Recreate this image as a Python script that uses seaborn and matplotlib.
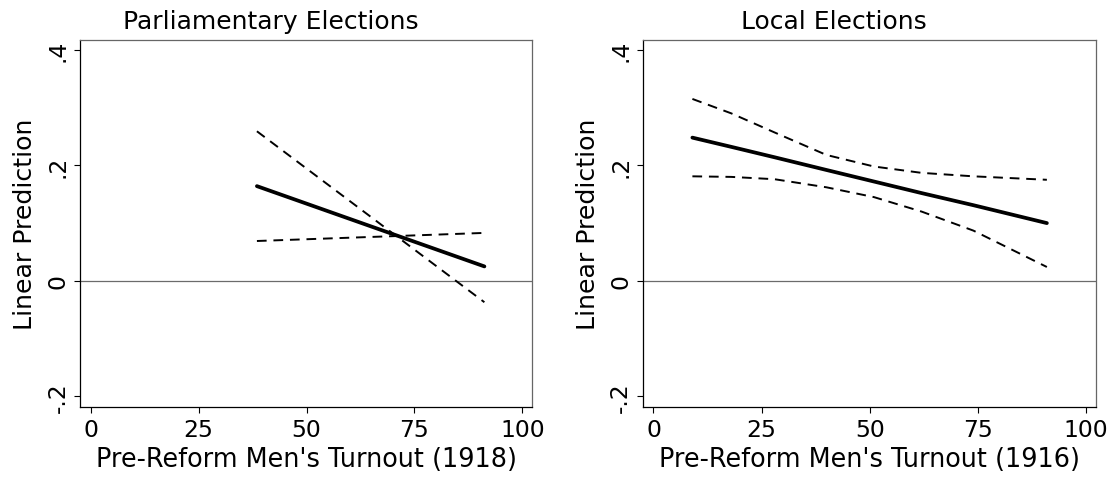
import matplotlib
matplotlib.use('Agg')
import matplotlib.pyplot as plt
import seaborn as sns
import pandas as pd

# parliamentary elections, turnout 1918 (straight lines, read at both ends)
parl_x = [38.5, 91.2]
parl_fit = [0.164, 0.025]
parl_hi = [0.259, -0.037]
parl_lo = [0.069, 0.083]

# local elections, turnout 1916
local_x = [9, 18, 28, 40, 51, 62, 74, 91]
local_fit = [0.248, 0.232, 0.214, 0.192, 0.172, 0.152, 0.131, 0.100]
local_hi = [0.315, 0.290, 0.257, 0.218, 0.198, 0.187, 0.181, 0.175]
local_lo = [0.181, 0.180, 0.176, 0.162, 0.145, 0.120, 0.087, 0.024]

titles = ['Parliamentary Elections', 'Local Elections']
xlabels = ["Pre-Reform Men's Turnout (1918)", "Pre-Reform Men's Turnout (1916)"]
xticks = [0, 25, 50, 75, 100]
yticks = [-0.2, 0, 0.2, 0.4]
ytick_labels = ['-.2', '0', '.2', '.4']

sns.set_style('white')
plt.rcParams['font.family'] = ['DejaVu Sans']

fig = plt.figure(figsize=(11.15, 4.81), dpi=100)
ax1 = fig.add_axes([0.0717, 0.1511, 0.4057, 0.7642])
ax2 = fig.add_axes([0.5764, 0.1511, 0.4063, 0.7642])

panels = [
    (ax1, parl_x, parl_fit, parl_hi, parl_lo),
    (ax2, local_x, local_fit, local_hi, local_lo),
]

dash = (0, (5, 3.5))

for i, (ax, x, fit, hi, lo) in enumerate(panels):
    df = pd.DataFrame({'x': x, 'fit': fit, 'hi': hi, 'lo': lo})

    ax.axhline(0, color='#6b6b6b', lw=0.9, zorder=1)
    sns.lineplot(data=df, x='x', y='hi', ax=ax, color='black', lw=1.4, linestyle=dash)
    sns.lineplot(data=df, x='x', y='lo', ax=ax, color='black', lw=1.4, linestyle=dash)
    sns.lineplot(data=df, x='x', y='fit', ax=ax, color='black', lw=2.7)

    ax.set_xlim(-2.5, 102.3)
    ax.set_ylim(-0.219, 0.4175)
    ax.set_xticks(xticks)
    ax.set_yticks(yticks)
    ax.set_yticklabels(ytick_labels, rotation=90, va='center')
    ax.tick_params(bottom=True, left=True, length=4.5, width=0.8, color='black',
                   labelsize=16.9, pad=3, labelcolor='black')

    for side in ['left', 'bottom']:
        ax.spines[side].set_color('black')
        ax.spines[side].set_linewidth(0.9)
    for side in ['top', 'right']:
        ax.spines[side].set_color('#666666')
        ax.spines[side].set_linewidth(0.9)

    ax.set_xlabel(xlabels[i], fontsize=18.4, labelpad=3.5, color='black')
    ax.set_ylabel('Linear Prediction', fontsize=18.2, labelpad=7, color='black')
    ax.text(0.423, 1.031, titles[i], transform=ax.transAxes, ha='center',
            va='baseline', fontsize=18, color='black')

fig.savefig('out.png', dpi=100)
